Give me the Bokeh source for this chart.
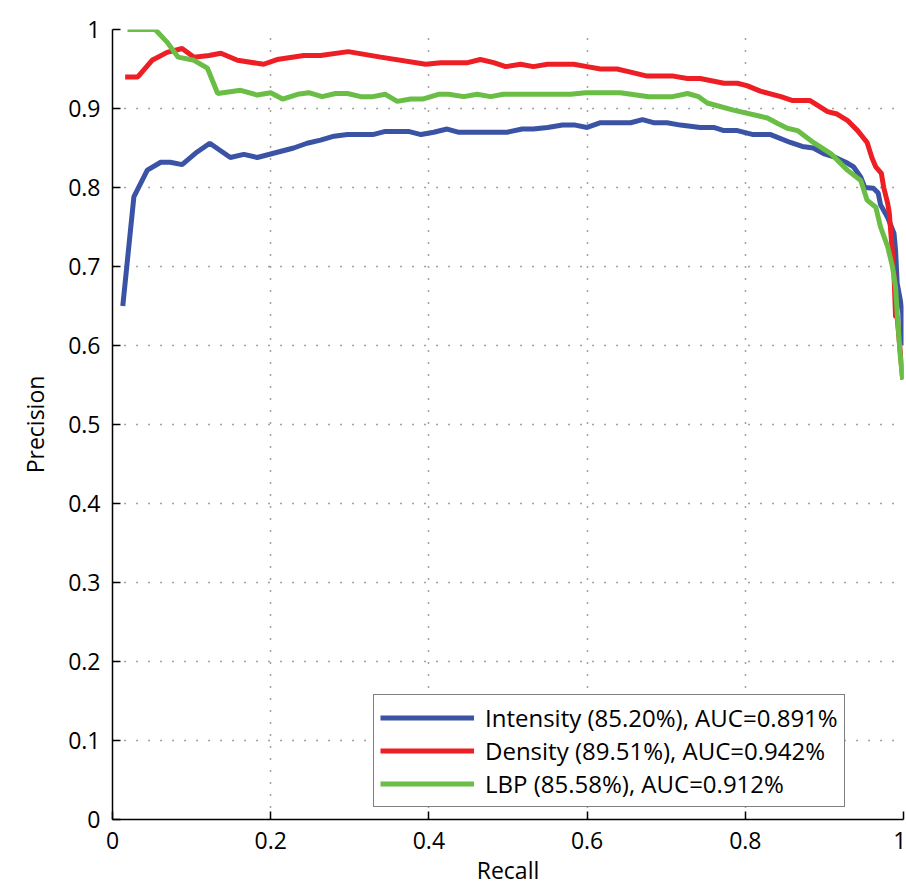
from bokeh.plotting import figure
from bokeh.models import FixedTicker, NumeralTickFormatter, Legend, LegendItem
from bokeh.embed import file_html
from bokeh.resources import INLINE

# ---- data ----
int_recall = [0.013, 0.027, 0.044, 0.061, 0.073, 0.088, 0.107, 0.123, 0.149, 0.166, 0.183,
              0.229, 0.246, 0.263, 0.28, 0.297, 0.329, 0.345, 0.374, 0.39, 0.406, 0.423,
              0.437, 0.499, 0.518, 0.532, 0.55, 0.569, 0.585, 0.6, 0.617, 0.655, 0.67,
              0.684, 0.701, 0.718, 0.743, 0.76, 0.773, 0.79, 0.81, 0.832, 0.857, 0.872,
              0.886, 0.899, 0.914, 0.929, 0.937, 0.946, 0.951, 0.962, 0.968, 0.971, 0.98,
              0.988, 0.99, 0.992, 0.999, 1.0]
int_precision = [0.65, 0.788, 0.822, 0.832, 0.832, 0.829, 0.845, 0.856, 0.838, 0.842, 0.838,
                 0.85, 0.856, 0.86, 0.865, 0.867, 0.867, 0.871, 0.871, 0.867, 0.87, 0.874,
                 0.87, 0.87, 0.874, 0.874, 0.876, 0.879, 0.879, 0.876, 0.882, 0.882, 0.886,
                 0.882, 0.882, 0.879, 0.876, 0.876, 0.872, 0.872, 0.867, 0.867, 0.857, 0.852,
                 0.85, 0.843, 0.838, 0.831, 0.826, 0.813, 0.80, 0.799, 0.793, 0.778, 0.762,
                 0.742, 0.72, 0.679, 0.641, 0.60]

den_recall = [0.016, 0.032, 0.05, 0.069, 0.088, 0.103, 0.122, 0.137, 0.158, 0.191, 0.208,
              0.242, 0.263, 0.298, 0.339, 0.396, 0.415, 0.449, 0.465, 0.482, 0.497, 0.516,
              0.532, 0.55, 0.583, 0.6, 0.617, 0.638, 0.655, 0.676, 0.709, 0.727, 0.743,
              0.773, 0.79, 0.802, 0.819, 0.845, 0.86, 0.882, 0.904, 0.916, 0.929, 0.942,
              0.954, 0.96, 0.965, 0.972, 0.975, 0.98, 0.982, 0.986, 0.988, 0.99, 0.992,
              0.999]
den_precision = [0.94, 0.94, 0.961, 0.971, 0.976, 0.965, 0.967, 0.97, 0.961, 0.956, 0.962,
                 0.967, 0.967, 0.972, 0.965, 0.956, 0.958, 0.958, 0.962, 0.958, 0.953, 0.956,
                 0.953, 0.956, 0.956, 0.953, 0.95, 0.95, 0.946, 0.941, 0.941, 0.938, 0.938,
                 0.932, 0.932, 0.929, 0.922, 0.915, 0.91, 0.91, 0.896, 0.893, 0.885, 0.872,
                 0.857, 0.838, 0.826, 0.818, 0.80, 0.78, 0.768, 0.717, 0.69, 0.636, 0.636,
                 0.557]

lbp_recall = [0.019, 0.054, 0.069, 0.083, 0.103, 0.12, 0.133, 0.162, 0.183, 0.2, 0.215,
              0.234, 0.248, 0.265, 0.282, 0.297, 0.314, 0.329, 0.345, 0.36, 0.377, 0.392,
              0.412, 0.425, 0.444, 0.461, 0.478, 0.494, 0.579, 0.598, 0.642, 0.678, 0.708,
              0.727, 0.741, 0.752, 0.785, 0.828, 0.841, 0.853, 0.866, 0.886, 0.908, 0.929,
              0.946, 0.954, 0.965, 0.971, 0.98, 0.986, 0.99, 0.992, 0.996, 0.999]
lbp_precision = [1.0, 1.0, 0.984, 0.965, 0.961, 0.951, 0.919, 0.923, 0.917, 0.92, 0.912,
                 0.918, 0.92, 0.915, 0.919, 0.919, 0.915, 0.915, 0.918, 0.909, 0.912, 0.912,
                 0.918, 0.918, 0.915, 0.918, 0.915, 0.918, 0.918, 0.92, 0.92, 0.915, 0.915,
                 0.919, 0.915, 0.907, 0.898, 0.888, 0.881, 0.875, 0.872, 0.857, 0.843, 0.822,
                 0.809, 0.784, 0.775, 0.75, 0.725, 0.70, 0.674, 0.641, 0.586, 0.557]

series_labels = ["Intensity (85.20%), AUC=0.891%",
                 "Density (89.51%), AUC=0.942%",
                 "LBP (85.58%), AUC=0.912%"]
series_colors = ["#3a53a4", "#ed1f24", "#6abd45"]
x_ticks = [0, 0.2, 0.4, 0.6, 0.8, 1]
y_ticks = [0, 0.1, 0.2, 0.3, 0.4, 0.5, 0.6, 0.7, 0.8, 0.9, 1]

FONT = "Open Sans"

p = figure(width=906, height=888, x_range=(0, 1), y_range=(0, 1),
           output_backend="svg", toolbar_location=None,
           min_border_left=112, min_border_right=3, min_border_top=29, min_border_bottom=67)
p.outline_line_color = None
p.background_fill_color = "white"

renderers = []
for xs, ys, col in [(int_recall, int_precision, series_colors[0]),
                    (den_recall, den_precision, series_colors[1]),
                    (lbp_recall, lbp_precision, series_colors[2])]:
    r = p.line(xs, ys, line_color=col, line_width=5)
    renderers.append(r)

for ax, ticks in [(p.xaxis[0], x_ticks), (p.yaxis[0], y_ticks)]:
    ax.ticker = FixedTicker(ticks=ticks)
    ax.formatter = NumeralTickFormatter(format="0.[0]")
    ax.major_tick_in = 8
    ax.major_tick_out = 0
    ax.minor_tick_in = 0
    ax.minor_tick_out = 0
    ax.axis_line_color = "black"
    ax.axis_line_width = 1.5
    ax.major_tick_line_color = "black"
    ax.major_tick_line_width = 1.5
    ax.major_label_text_font = FONT
    ax.major_label_text_font_size = "23px"
    ax.major_label_text_color = "black"
    ax.axis_label_text_font = FONT
    ax.axis_label_text_font_size = "23px"
    ax.axis_label_text_font_style = "normal"
    ax.axis_label_text_color = "black"

p.xaxis.axis_label = "Recall"
p.yaxis.axis_label = "Precision"
p.xaxis.major_label_standoff = 12
p.xaxis.axis_label_standoff = 2
p.yaxis.major_label_standoff = 12
p.yaxis.axis_label_standoff = 14

for g in [p.xgrid[0], p.ygrid[0]]:
    g.grid_line_color = "#444444"
    g.grid_line_width = 1.5
    g.grid_line_dash = "1 11"

p.xgrid[0].ticker = FixedTicker(ticks=x_ticks)
p.ygrid[0].ticker = FixedTicker(ticks=y_ticks)

items = [LegendItem(label=lab, renderers=[r]) for lab, r in zip(series_labels, renderers)]
legend = Legend(items=items, location=(261, 12))
legend.border_line_color = "black"
legend.border_line_width = 1.5
legend.background_fill_color = "white"
legend.background_fill_alpha = 1
legend.label_text_font = FONT
legend.label_text_font_size = "24px"
legend.label_text_color = "black"
legend.glyph_width = 94
legend.glyph_height = 33
legend.label_height = 33
legend.label_standoff = 11
legend.padding = 6
legend.spacing = 0
legend.margin = 0
p.add_layout(legend, "center")

open("out.html", "w").write(file_html(p, INLINE))
